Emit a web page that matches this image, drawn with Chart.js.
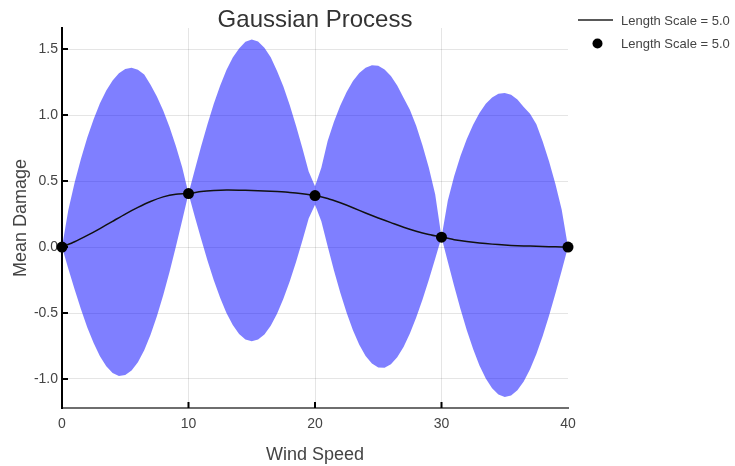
<!DOCTYPE html>
<html>
<head>
<meta charset="utf-8">
<script src="https://cdn.jsdelivr.net/npm/chart.js@4.4.1/dist/chart.umd.min.js"></script>
<style>
  html, body { margin: 0; padding: 0; background: #ffffff; }
  #wrap { width: 735px; height: 466px; }
</style>
</head>
<body>
<div id="wrap"><canvas id="chart" width="735" height="466"></canvas></div>
<script>
// Wind speeds where the confidence band is evaluated
const bandSpeed = [
  0, 0.5, 1, 1.5, 2, 2.5, 3, 3.5, 4, 4.5, 5, 5.5, 6, 6.5, 7, 7.5, 8, 8.5, 9, 9.5,
  10, 10.5, 11, 11.5, 12, 12.5, 13, 13.5, 14, 14.5, 15, 15.5, 16, 16.5, 17, 17.5, 18, 18.5, 19, 19.5,
  20, 20.5, 21, 21.5, 22, 22.5, 23, 23.5, 24, 24.5, 25, 25.5, 26, 26.5, 27, 27.5, 28, 28.5, 29, 29.5,
  30, 30.5, 31, 31.5, 32, 32.5, 33, 33.5, 34, 34.5, 35, 35.5, 36, 36.5, 37, 37.5, 38, 38.5, 39, 39.5,
  40
];
// Upper edge of the band
const bandUpper = [
  0, 0.280, 0.489, 0.670, 0.830, 0.969, 1.089, 1.187, 1.263, 1.317, 1.349, 1.358, 1.344, 1.308, 1.23, 1.14, 1.035, 0.91, 0.765, 0.605,
  0.405, 0.586, 0.763, 0.931, 1.086, 1.223, 1.342, 1.436, 1.505, 1.555, 1.572, 1.557, 1.51, 1.438, 1.335, 1.216, 1.077, 0.920, 0.751, 0.573,
  0.46, 0.60, 0.804, 0.949, 1.072, 1.175, 1.258, 1.319, 1.359, 1.377, 1.373, 1.346, 1.296, 1.225, 1.132, 1.04, 0.92, 0.77, 0.60, 0.40,
  0.075, 0.352, 0.536, 0.689, 0.819, 0.927, 1.016, 1.085, 1.133, 1.161, 1.168, 1.154, 1.118, 1.062, 1.01, 0.93, 0.80, 0.65, 0.48, 0.285,
  0
];
// Lower edge of the band
const bandLower = [
  0, -0.164, -0.322, -0.472, -0.609, -0.728, -0.827, -0.903, -0.954, -0.977, -0.970, -0.936, -0.873, -0.782, -0.665, -0.525, -0.366, -0.189, 0.002, 0.201,
  0.405, 0.230, 0.060, -0.102, -0.252, -0.385, -0.500, -0.591, -0.659, -0.700, -0.715, -0.701, -0.662, -0.596, -0.506, -0.392, -0.261, -0.113, 0.048, 0.217,
  0.32, 0.195, 0.005, -0.177, -0.346, -0.499, -0.631, -0.740, -0.825, -0.883, -0.913, -0.914, -0.888, -0.835, -0.757, -0.656, -0.535, -0.398, -0.248, -0.088,
  0.075, -0.112, -0.295, -0.469, -0.630, -0.773, -0.897, -0.996, -1.071, -1.117, -1.136, -1.125, -1.086, -1.019, -0.927, -0.811, -0.675, -0.521, -0.355, -0.180,
  0
];
// Posterior mean damage
const meanSpeed = [
  0, 1, 2, 3, 4, 5, 6, 7, 8, 9, 10, 11, 12, 13, 14, 15, 16, 17, 18, 19, 20,
  21, 22, 23, 24, 25, 26, 27, 28, 29, 30, 31, 32, 33, 34, 35, 36, 37, 38, 39, 40
];
const meanDamage = [
  0.000, 0.040, 0.088, 0.140, 0.195, 0.250, 0.300, 0.345, 0.380, 0.400, 0.405,
  0.420, 0.428, 0.432, 0.431, 0.428, 0.425, 0.420, 0.414, 0.404, 0.390,
  0.368, 0.335, 0.298, 0.258, 0.220, 0.185, 0.150, 0.120, 0.095, 0.075,
  0.056, 0.042, 0.031, 0.022, 0.015, 0.010, 0.007, 0.004, 0.002, 0.000
];
// Observed points
const obsSpeed = [0, 10, 20, 30, 40];
const obsDamage = [0.000, 0.405, 0.390, 0.075, 0.000];

const xTicks = [0, 10, 20, 30, 40];
const yTicks = [-1.0, -0.5, 0.0, 0.5, 1.0, 1.5];
const seriesLabel = 'Length Scale = 5.0';
const chartTitle = 'Gaussian Process';

const toPoints = (xs, ys) => xs.map((x, i) => ({ x: x, y: ys[i] }));

const FONT = "'Liberation Sans', Arial, sans-serif";
const TEXT = '#444444';
Chart.defaults.font.family = FONT;

// Title, legend and inward tick marks
const decor = {
  id: 'decor',
  beforeDatasetsDraw(chart) {
    const { ctx, chartArea, scales } = chart;
    ctx.save();
    ctx.strokeStyle = '#000000';
    ctx.lineWidth = 2;
    ctx.beginPath();
    yTicks.forEach(v => {
      const y = scales.y.getPixelForValue(v);
      ctx.moveTo(chartArea.left, y);
      ctx.lineTo(chartArea.left + 6, y);
    });
    xTicks.forEach(v => {
      if (v <= scales.x.min || v >= scales.x.max) return;
      const x = scales.x.getPixelForValue(v);
      ctx.moveTo(x, chartArea.bottom);
      ctx.lineTo(x, chartArea.bottom - 6);
    });
    ctx.stroke();
    ctx.restore();
  },
  afterDraw(chart) {
    const { ctx, chartArea } = chart;
    ctx.save();
    // title
    ctx.fillStyle = '#333333';
    ctx.font = '24px ' + FONT;
    ctx.textAlign = 'center';
    ctx.textBaseline = 'alphabetic';
    ctx.fillText(chartTitle, (chartArea.left + chartArea.right) / 2, 27);
    // legend
    ctx.strokeStyle = '#222222';
    ctx.lineWidth = 1.5;
    ctx.beginPath();
    ctx.moveTo(578, 20);
    ctx.lineTo(613, 20);
    ctx.stroke();
    ctx.fillStyle = '#000000';
    ctx.beginPath();
    ctx.arc(597.5, 43.5, 5, 0, Math.PI * 2);
    ctx.fill();
    ctx.fillStyle = TEXT;
    ctx.font = '13px ' + FONT;
    ctx.textAlign = 'left';
    ctx.fillText(seriesLabel, 621, 24.5);
    ctx.fillText(seriesLabel, 621, 48);
    ctx.restore();
  }
};

new Chart(document.getElementById('chart'), {
  type: 'line',
  data: {
    datasets: [
      {
        label: 'upper',
        data: toPoints(bandSpeed, bandUpper),
        borderWidth: 0,
        borderColor: 'rgba(0,0,0,0)',
        pointRadius: 0,
        tension: 0,
        fill: '+1',
        backgroundColor: 'rgba(0,0,255,0.5)',
        order: 3
      },
      {
        label: 'lower',
        data: toPoints(bandSpeed, bandLower),
        borderWidth: 0,
        borderColor: 'rgba(0,0,0,0)',
        pointRadius: 0,
        tension: 0,
        fill: false,
        order: 2
      },
      {
        label: seriesLabel,
        data: toPoints(meanSpeed, meanDamage),
        borderColor: '#111111',
        borderWidth: 1.5,
        pointRadius: 0,
        tension: 0.2,
        fill: false,
        order: 1
      },
      {
        label: seriesLabel,
        data: toPoints(obsSpeed, obsDamage),
        showLine: false,
        pointRadius: 5.5,
        pointBackgroundColor: '#000000',
        pointBorderColor: '#000000',
        pointBorderWidth: 0,
        fill: false,
        order: 0
      }
    ]
  },
  options: {
    responsive: false,
    devicePixelRatio: 1,
    animation: false,
    clip: false,
    layout: { padding: { left: 0, right: 167, top: 28, bottom: 0 } },
    plugins: {
      legend: { display: false },
      title: { display: false },
      tooltip: { enabled: false },
      filler: { drawTime: 'beforeDatasetsDraw' }
    },
    scales: {
      x: {
        type: 'linear',
        min: 0,
        max: 40,
        afterBuildTicks: s => { s.ticks = xTicks.map(v => ({ value: v })); },
        afterFit: s => { s.height = 58; },
        grid: {
          color: c => (c.tick && c.tick.value === 40) ? 'rgba(0,0,0,0)' : 'rgba(0,0,0,0.1)',
          lineWidth: 1,
          drawTicks: false
        },
        border: { display: true, color: '#6e6e6e', width: 2 },
        ticks: { color: TEXT, font: { size: 14 }, padding: 8, maxRotation: 0 },
        title: {
          display: true, text: 'Wind Speed', color: TEXT,
          font: { size: 18 }, padding: { top: 0, bottom: 0 }
        }
      },
      y: {
        type: 'linear',
        min: -1.22,
        max: 1.66,
        afterBuildTicks: s => { s.ticks = yTicks.map(v => ({ value: v })); },
        afterFit: s => { s.width = 62; },
        grid: { color: 'rgba(0,0,0,0.1)', lineWidth: 1, drawTicks: false },
        border: { display: true, color: '#000000', width: 2 },
        ticks: {
          color: TEXT, font: { size: 14 }, padding: 4,
          callback: v => Number(v).toFixed(1)
        },
        title: {
          display: true, text: 'Mean Damage', color: TEXT,
          font: { size: 18 }, padding: { top: 10, bottom: 0 }
        }
      }
    }
  },
  plugins: [decor]
});
</script>
</body>
</html>
